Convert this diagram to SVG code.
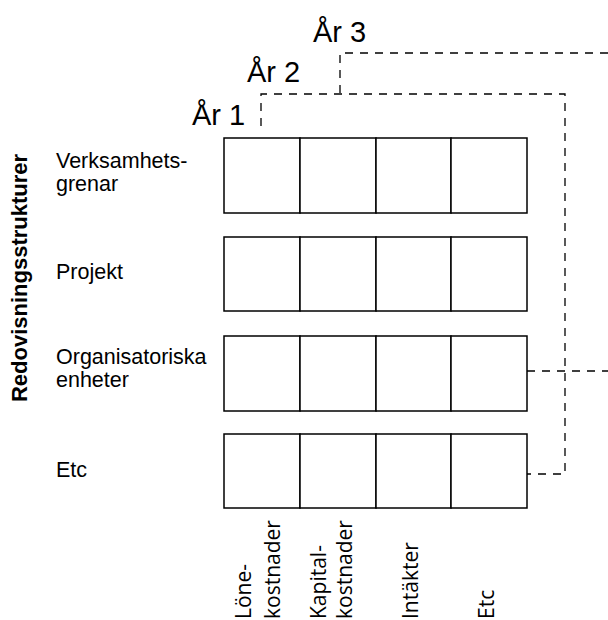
<svg xmlns="http://www.w3.org/2000/svg" width="608" height="620" viewBox="0 0 608 620">
<style>
.cell{fill:#fff;stroke:#000;stroke-width:1.5}
.dash{fill:none;stroke:#000;stroke-width:1.3;stroke-dasharray:8 7}
.yr{font-family:"Liberation Sans",Arial,sans-serif;font-size:29px;fill:#000}
.row{font-family:"Liberation Sans",Arial,sans-serif;font-size:21.5px;fill:#000}
.col{font-family:"Open Sans","Liberation Sans",sans-serif;font-size:21px;fill:#000}
.side{font-family:"Liberation Sans",Arial,sans-serif;font-size:22px;font-weight:bold;fill:#000}
</style>
<rect width="608" height="620" fill="#fff"/>
<g id="connectors">
<path class="dash" d="M261,126 V94 H565 V474 H527"/>
<path class="dash" d="M340,93 V53 H608"/>
<path class="dash" d="M527,371 H608"/>
</g>
<g id="year-labels">
<text class="yr" x="192" y="125">År 1</text>
<text class="yr" x="247" y="82">År 2</text>
<text class="yr" x="313" y="42">År 3</text>
</g>
<g id="side-label">
<text class="side" transform="translate(27,278) rotate(-90)" text-anchor="middle">Redovisningsstrukturer</text>
</g>
<g id="row-verksamhetsgrenar">
<text class="row" x="56" y="168">Verksamhets-</text>
<text class="row" x="56" y="191">grenar</text>
<rect class="cell" x="224" y="138" width="76" height="75"/>
<rect class="cell" x="300" y="138" width="76" height="75"/>
<rect class="cell" x="376" y="138" width="75" height="75"/>
<rect class="cell" x="451" y="138" width="76" height="75"/>
</g>
<g id="row-projekt">
<text class="row" x="56" y="279">Projekt</text>
<rect class="cell" x="224" y="237" width="76" height="74"/>
<rect class="cell" x="300" y="237" width="76" height="74"/>
<rect class="cell" x="376" y="237" width="75" height="74"/>
<rect class="cell" x="451" y="237" width="76" height="74"/>
</g>
<g id="row-organisatoriska">
<text class="row" x="56" y="364">Organisatoriska</text>
<text class="row" x="56" y="387">enheter</text>
<rect class="cell" x="224" y="336" width="76" height="75"/>
<rect class="cell" x="300" y="336" width="76" height="75"/>
<rect class="cell" x="376" y="336" width="75" height="75"/>
<rect class="cell" x="451" y="336" width="76" height="75"/>
</g>
<g id="row-etc">
<text class="row" x="56" y="477">Etc</text>
<rect class="cell" x="224" y="434" width="76" height="74"/>
<rect class="cell" x="300" y="434" width="76" height="74"/>
<rect class="cell" x="376" y="434" width="75" height="74"/>
<rect class="cell" x="451" y="434" width="76" height="74"/>
</g>
<g id="column-labels">
<text class="col" transform="translate(251,619) rotate(-90)">Löne-</text>
<text class="col" transform="translate(280,619) rotate(-90)">kostnader</text>
<text class="col" transform="translate(326,619) rotate(-90)">Kapital-</text>
<text class="col" transform="translate(352,619) rotate(-90)">kostnader</text>
<text class="col" transform="translate(418,619) rotate(-90)">Intäkter</text>
<text class="col" transform="translate(494,619) rotate(-90)">Etc</text>
</g>
</svg>
